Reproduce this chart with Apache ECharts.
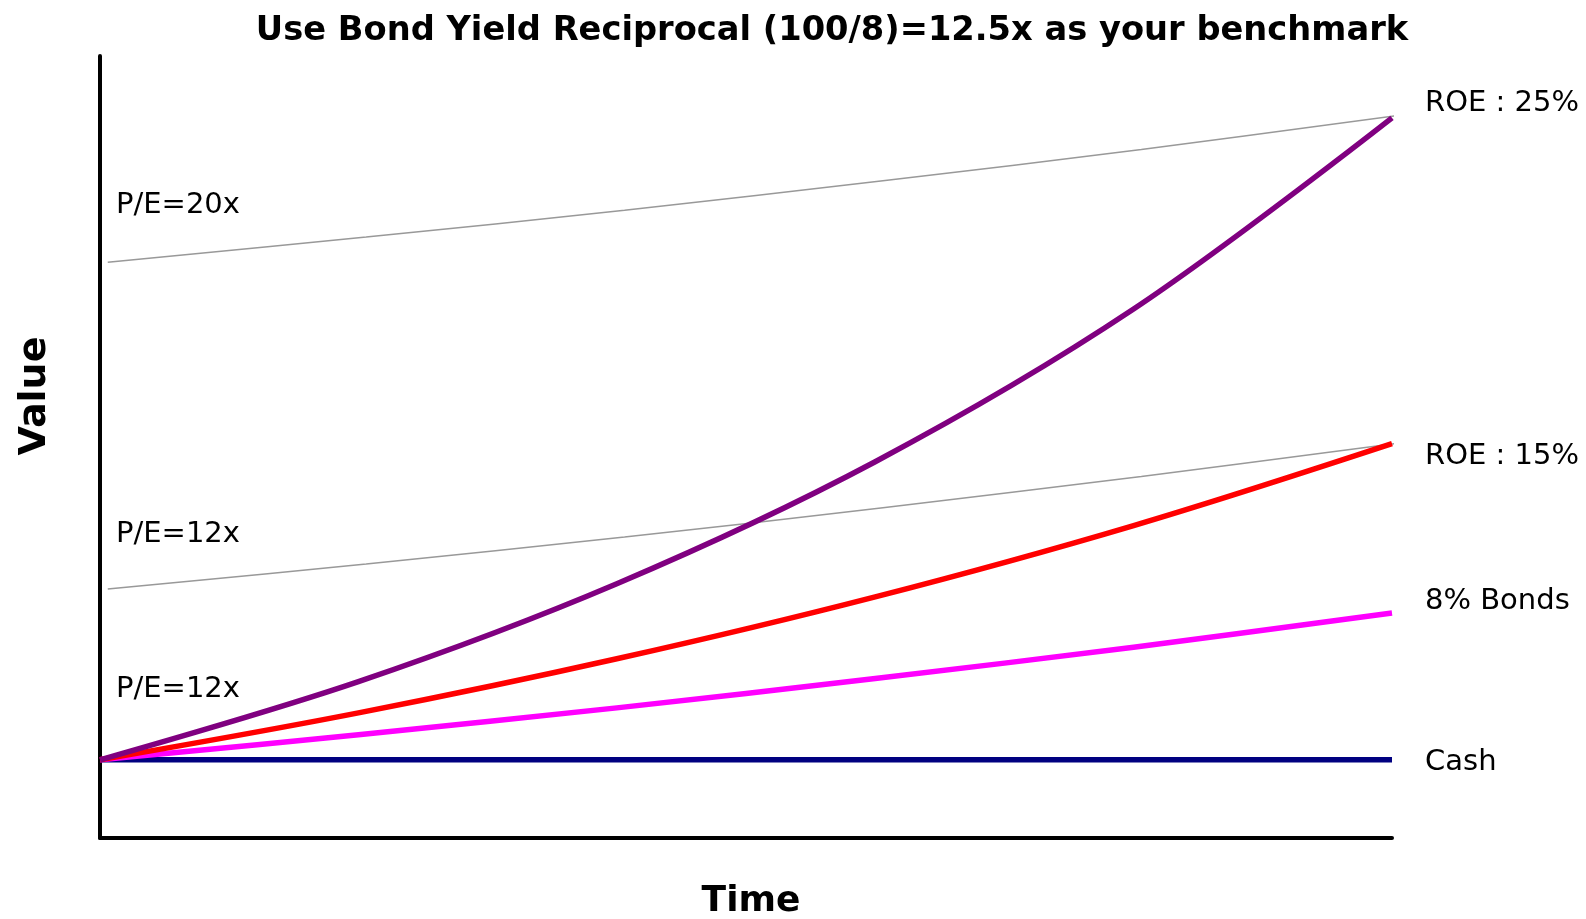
<!DOCTYPE html>
<html>
<head>
<meta charset="utf-8">
<title>Bond Yield Reciprocal Benchmark</title>
<script src="https://cdn.jsdelivr.net/npm/echarts@6/dist/echarts.min.js"></script>
<style>
  html, body { margin: 0; padding: 0; background: #ffffff; }
  #chart { width: 1586px; height: 919px; }
</style>
</head>
<body>
<div id="chart"></div>
<script>
// Growth of one unit of value over five periods
const periods = [0, 1, 2, 3, 4, 5];
const cash = [1, 1, 1, 1, 1, 1];
const bonds8 = [1, 1.08, 1.166, 1.26, 1.36, 1.469];
const roe15 = [1, 1.15, 1.323, 1.521, 1.749, 2.011];
const roe25 = [1, 1.25, 1.563, 1.953, 2.441, 3.052];

// P/E reference lines (slightly offset along time)
const pePeriods = [0.03, 1.03, 2.03, 3.03, 4.03, 5.03];
const pe12 = [1.546, 1.626, 1.712, 1.806, 1.906, 2.013];
const pe20 = [2.591, 2.671, 2.757, 2.851, 2.951, 3.061];

const seriesNames = ['Cash', '8% Bonds', 'ROE : 15%', 'ROE : 25%'];
const leftNotes = ['P/E=20x', 'P/E=12x', 'P/E=12x'];

const FONT = '"DejaVu Sans", Verdana, sans-serif';
const zip = (xs, ys) => xs.map((x, i) => [x, ys[i]]);

const chart = echarts.init(document.getElementById('chart'), null, { renderer: 'canvas' });

function mainLine(name, data, color, z, offset) {
  return {
    name: name,
    type: 'line',
    data: zip(periods, data),
    smooth: 0.35,
    showSymbol: false,
    symbol: 'none',
    z: z,
    lineStyle: { color: color, width: 5.5, cap: 'butt', join: 'round' },
    endLabel: {
      show: true,
      formatter: name,
      distance: 0,
      offset: offset,
      color: '#000000',
      fontFamily: FONT,
      fontSize: 29,
      align: 'left',
      verticalAlign: 'middle'
    },
    animation: false
  };
}

function peLine(data) {
  return {
    type: 'line',
    data: zip(pePeriods, data),
    smooth: 0.35,
    showSymbol: false,
    symbol: 'none',
    clip: false,
    z: 2,
    lineStyle: { color: '#999999', width: 1.5 },
    animation: false
  };
}

const option = {
  backgroundColor: '#ffffff',
  animation: false,
  title: {
    text: 'Use Bond Yield Reciprocal (100/8)=12.5x as your benchmark',
    left: 832,
    top: 31,
    padding: 0,
    textAlign: 'center',
    textVerticalAlign: 'middle',
    textStyle: { fontFamily: FONT, fontWeight: 'bold', fontSize: 33.7, color: '#000000' }
  },
  grid: { left: 100, right: 194, top: 56, bottom: 81, containLabel: false },
  xAxis: {
    type: 'value',
    min: 0,
    max: 5,
    axisLine: { show: true, onZero: false, lineStyle: { color: '#000000', width: 4 } },
    axisTick: { show: false },
    axisLabel: { show: false },
    splitLine: { show: false }
  },
  yAxis: {
    type: 'value',
    min: 0.75,
    max: 3.25,
    axisLine: { show: true, onZero: false, lineStyle: { color: '#000000', width: 4 } },
    axisTick: { show: false },
    axisLabel: { show: false },
    splitLine: { show: false }
  },
  series: [
    peLine(pe20),
    peLine(pe12),
    mainLine(seriesNames[0], cash, '#000080', 3, [33, 3]),
    mainLine(seriesNames[1], bonds8, '#FF00FF', 4, [33, -12]),
    mainLine(seriesNames[2], roe15, '#FF0000', 5, [33, 13]),
    mainLine(seriesNames[3], roe25, '#800080', 6, [33, -14])
  ],
  graphic: [
    {
      type: 'text', x: 116, y: 205, z: 10,
      style: { text: leftNotes[0], font: '29px ' + FONT, fill: '#000000', align: 'left', verticalAlign: 'middle' }
    },
    {
      type: 'text', x: 116, y: 534, z: 10,
      style: { text: leftNotes[1], font: '29px ' + FONT, fill: '#000000', align: 'left', verticalAlign: 'middle' }
    },
    {
      type: 'text', x: 116, y: 689, z: 10,
      style: { text: leftNotes[2], font: '29px ' + FONT, fill: '#000000', align: 'left', verticalAlign: 'middle' }
    },
    {
      type: 'text', x: 35, y: 396, rotation: Math.PI / 2, z: 10,
      style: { text: 'Value', font: 'bold 38px ' + FONT, fill: '#000000', align: 'center', verticalAlign: 'middle' }
    },
    {
      type: 'text', x: 751, y: 902, z: 10,
      style: { text: 'Time', font: 'bold 36px ' + FONT, fill: '#000000', align: 'center', verticalAlign: 'middle' }
    }
  ]
};

chart.setOption(option);
</script>
</body>
</html>
